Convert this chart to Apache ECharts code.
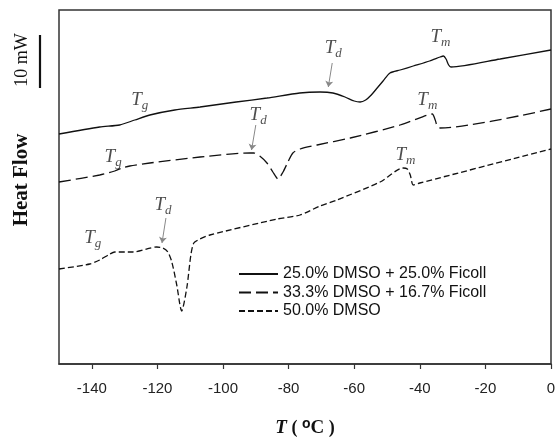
<!DOCTYPE html>
<html>
<head>
<meta charset="utf-8">
<script src="https://cdn.jsdelivr.net/npm/echarts@6/dist/echarts.min.js"></script>
<style>html,body{margin:0;padding:0;background:#fff}#c{width:556px;height:437px}</style>
</head>
<body>
<div id="c"></div>
<script>
// x tick labels
const xTicks = [-140, -120, -100, -80, -60, -40, -20, 0];
const seriesNames = ['25.0% DMSO + 25.0% Ficoll', '33.3% DMSO + 16.7% Ficoll', '50.0% DMSO'];
// [T (°C), heat flow (arbitrary, offset)]
const ficoll25 = [[-150,230],[-137.6,237],[-131.5,239],[-126.9,244],[-122.3,249],[-114.7,254],[-107,257],[-96,262],[-86.6,266],[-76.6,271],[-70.4,272],[-66.5,271],[-62.8,267],[-60,263],[-58.2,262],[-56.5,264],[-54.8,269],[-53,276],[-51.2,283],[-49.1,291],[-46,294],[-42,298],[-37,303],[-33.8,307],[-32.8,308],[-32.0,305],[-31.2,299],[-30.5,297],[-15.5,305],[0,314]];
const ficoll167 = [[-150,182],[-137.6,189],[-133,193],[-130.8,196],[-128.4,198],[-122.3,201],[-107,207],[-91.8,211],[-90.6,211],[-88.8,208],[-86.6,201],[-84.8,192],[-83.2,185],[-81.7,192],[-80.2,202],[-78.7,211],[-76.5,215],[-71.3,219],[-61.2,226],[-46,239],[-37.7,249],[-36.2,250],[-35.3,244],[-34.7,238],[-33.8,236],[0,255]];
const dmso50 = [[-150,95],[-140.6,100],[-137.6,104],[-134.5,110],[-133,112],[-127.5,112],[-120.2,117],[-118.3,116],[-116.8,112],[-115.6,102],[-114.1,79],[-112.6,53],[-111,77],[-109.8,109],[-108.9,121],[-107,125],[-104,129],[-83.5,145],[-76.5,149],[-70.4,158],[-65.3,164],[-52.1,182],[-45.1,196],[-43.8,195],[-42.9,189],[-42,179],[-40,181],[0,215]];
// annotation labels: [T, y, subscript]
const labelsAt = [[-125.4,264,'g'],[-66.4,316,'d'],[-33.7,327,'m'],[-133.5,207,'g'],[-89.3,249,'d'],[-37.7,264,'m'],[-139.7,126,'g'],[-118.3,159,'d'],[-44.4,209,'m']];
// arrows: [[T0,y0],[T1,y1]]
const arrows = [[[-66.7,301],[-67.9,277]],[[-90.0,239],[-91.3,214]],[[-117.4,146],[-118.6,121]]];

const chart = echarts.init(document.getElementById('c'), null, {renderer:'canvas'});
const lineCol = '#111';
const serif = '"Liberation Serif","Times New Roman",serif';
const sans = '"Liberation Sans",Arial,sans-serif';
function lineSeries(name, data, type){
  return {name, type:'line', data, symbol:'none', smooth:0.25, animation:false,
    lineStyle:{color:lineCol, width:1.3, type}, itemStyle:{color:lineCol}};
}
chart.setOption({
  animation:false,
  grid:{left:59, right:5, top:10, bottom:73, show:true, borderColor:'#333', borderWidth:1.5, backgroundColor:'transparent', outerBoundsMode:'none', containLabel:false},
  xAxis:{type:'value', min:-150, max:0,
    axisLine:{show:true, lineStyle:{color:'#333', width:1.5}},
    axisTick:{show:true, customValues:xTicks, length:5, lineStyle:{color:'#333', width:1.2}},
    axisLabel:{customValues:xTicks, color:'#222', fontSize:15, fontFamily:sans, margin:17},
    splitLine:{show:false},
    name:'{b|T} ( {sup|o}{c|C} )', nameLocation:'middle', nameGap:53,
    nameTextStyle:{fontFamily:serif, fontSize:18, fontWeight:'bold', color:'#111',
      rich:{b:{fontFamily:serif, fontSize:19, fontWeight:'bold', fontStyle:'italic', color:'#111'},
            sup:{fontFamily:sans, fontSize:14, fontWeight:'bold', color:'#111', padding:[0,0,8,0]},
            c:{fontFamily:serif, fontSize:19, fontWeight:'bold', color:'#111'}}}
  },
  yAxis:{type:'value', min:0, max:354, show:false},
  legend:{left:233, top:261, orient:'vertical', itemWidth:39, itemHeight:14, itemGap:2.5,
    itemStyle:{opacity:0},
    data:seriesNames, textStyle:{fontFamily:sans, fontSize:16, color:'#111'}},
  graphic:[
    {type:'text', x:22, y:60, rotation:Math.PI/2, style:{text:'10 mW', font:'18px '+serif, fill:'#111', align:'center', verticalAlign:'middle'}},
    {type:'line', shape:{x1:40,y1:35,x2:40,y2:88}, style:{stroke:'#111', lineWidth:2.2}},
    {type:'text', x:22, y:180, rotation:Math.PI/2, style:{text:'Heat Flow', font:'bold 21px '+serif, fill:'#111', align:'center', verticalAlign:'middle'}}
  ],
  series:[
    lineSeries(seriesNames[0], ficoll25, 'solid'),
    lineSeries(seriesNames[1], ficoll167, [12,5]),
    lineSeries(seriesNames[2], dmso50, [6,3]),
    {type:'scatter', data:labelsAt.map(d=>({value:[d[0],d[1]], sub:d[2]})), symbolSize:1, itemStyle:{color:'transparent'},
      silent:true, z:5,
      label:{show:true, position:'inside', formatter:p=>'{t|T}{s|'+p.data.sub+'}',
        rich:{t:{fontFamily:serif, fontStyle:'italic', fontSize:19, color:'#222'},
              s:{fontFamily:serif, fontStyle:'italic', fontSize:13, color:'#222', padding:[12,0,0,0]}}}},
    {type:'lines', coordinateSystem:'cartesian2d', data:arrows.map(a=>({coords:a})), symbol:['none','arrow'], symbolSize:6,
      lineStyle:{color:'#888', width:1, opacity:1}, silent:true}
  ]
});
</script>
</body>
</html>
